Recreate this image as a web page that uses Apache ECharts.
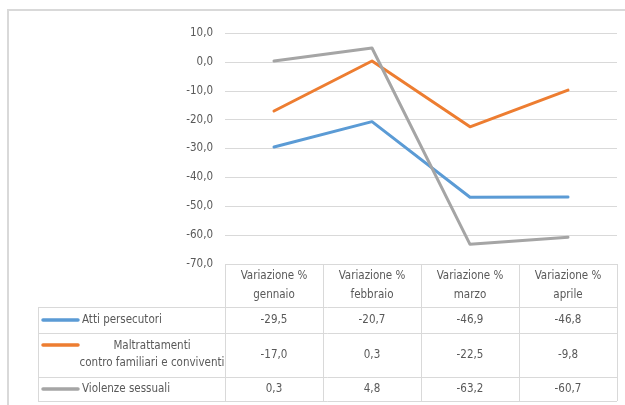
<!DOCTYPE html>
<html><head><meta charset="utf-8">
<script src="https://cdn.jsdelivr.net/npm/echarts@6/dist/echarts.min.js"></script>
<style>html,body{margin:0;padding:0;background:#fff}#c{width:625px;height:405px}</style>
</head><body><div id="c"></div>
<script>
const months = ["gennaio", "febbraio", "marzo", "aprile"];
const headerPrefix = "Variazione %";
const seriesNames = ["Atti persecutori", "Maltrattamenti\ncontro familiari e conviventi", "Violenze sessuali"];
const atti = [-29.5, -20.7, -46.9, -46.8];
const maltrattamenti = [-17.0, 0.3, -22.5, -9.8];
const violenze = [0.3, 4.8, -63.2, -60.7];
const yTicks = [10, 0, -10, -20, -30, -40, -50, -60, -70];

const colors = ["#5b9bd5", "#ed7d31", "#a5a5a5"];
const allSeries = [atti, maltrattamenti, violenze];
const FONT = "'Liberation Sans Narrow','DejaVu Sans Condensed',sans-serif";
const FS = 11.5;
const TXT = "#595959";
const GRID = "#d9d9d9";
const fmt = v => v.toFixed(1).replace('.', ',');

const chart = echarts.init(document.getElementById('c'), null, {renderer: 'canvas'});
const option = {
  animation: false,
  backgroundColor: '#fff',
  textStyle: {fontFamily: FONT},
  grid: {left: 225, right: 8, top: 33, bottom: 141, containLabel: false},
  xAxis: {
    type: 'category', data: months, boundaryGap: true,
    axisLine: {show: false}, axisTick: {show: false}, axisLabel: {show: false},
    splitLine: {show: false}
  },
  yAxis: {
    type: 'value', min: yTicks[yTicks.length - 1], max: yTicks[0], interval: 10,
    axisLine: {show: false}, axisTick: {show: false},
    axisLabel: {formatter: v => fmt(v), color: TXT, fontSize: FS, fontFamily: FONT, margin: 12},
    splitLine: {lineStyle: {color: GRID, width: 1}}
  },
  series: allSeries.map((d, i) => ({
    type: 'line', name: seriesNames[i], data: d, showSymbol: false, symbol: 'none',
    lineStyle: {color: colors[i], width: 3, cap: 'round', join: 'round'},
    itemStyle: {color: colors[i]}
  }))
};
chart.setOption(option);

// Build data table under the plot
const colW = chart.convertToPixel({xAxisIndex: 0}, months[1]) - chart.convertToPixel({xAxisIndex: 0}, months[0]);
const centers = months.map(m => chart.convertToPixel({xAxisIndex: 0}, m));
const xLeftPlot = centers[0] - colW / 2;
const xRightPlot = centers[centers.length - 1] + colW / 2;
const yTop = chart.convertToPixel({yAxisIndex: 0}, yTicks[yTicks.length - 1]);
const tableLeft = 38;
const rowLines = [307, 333, 377, 401];
const rowCenters = [320, 355, 389];
const g = [];
const line = (x1, y1, x2, y2) => g.push({type: 'line', shape: {x1, y1, x2, y2}, style: {stroke: GRID, lineWidth: 1}, silent: true});
// outer border
g.push({type: 'rect', shape: {x: 8, y: 10, width: 700, height: 500}, style: {fill: 'none', stroke: GRID, lineWidth: 2}, silent: true, z: -1});
// verticals in plot columns
for (let i = 0; i <= months.length; i++) {
  const x = Math.round(xLeftPlot + i * colW) + 0.5;
  line(x, yTop, x, rowLines[rowLines.length - 1]);
}
line(tableLeft + 0.5, rowLines[0], tableLeft + 0.5, rowLines[rowLines.length - 1]);
rowLines.forEach(y => line(tableLeft, y + 0.5, xRightPlot, y + 0.5));
const font = FS + "px " + FONT;
// header
months.forEach((m, i) => g.push({type: 'text', x: centers[i], y: (yTop + rowLines[0]) / 2,
  style: {text: headerPrefix + "\n" + m, align: 'center', verticalAlign: 'middle', fill: TXT, font, lineHeight: 19}}));
// rows
allSeries.forEach((d, r) => {
  const twoLine = seriesNames[r].indexOf('\n') >= 0;
  const swY = twoLine ? rowCenters[r] - 10 : rowCenters[r];
  g.push({type: 'line', shape: {x1: 43, y1: swY, x2: 78, y2: swY}, style: {stroke: colors[r], lineWidth: 3.5, lineCap: 'round'}});
  if (twoLine) {
    g.push({type: 'text', x: 152, y: rowCenters[r], style: {text: seriesNames[r], align: 'center', verticalAlign: 'middle', fill: TXT, font, lineHeight: 17}});
  } else {
    g.push({type: 'text', x: 82, y: rowCenters[r], style: {text: seriesNames[r], align: 'left', verticalAlign: 'middle', fill: TXT, font}});
  }
  d.forEach((v, i) => g.push({type: 'text', x: centers[i], y: rowCenters[r], style: {text: fmt(v), align: 'center', verticalAlign: 'middle', fill: TXT, font}}));
});
chart.setOption({graphic: {elements: g}});
</script></body></html>
